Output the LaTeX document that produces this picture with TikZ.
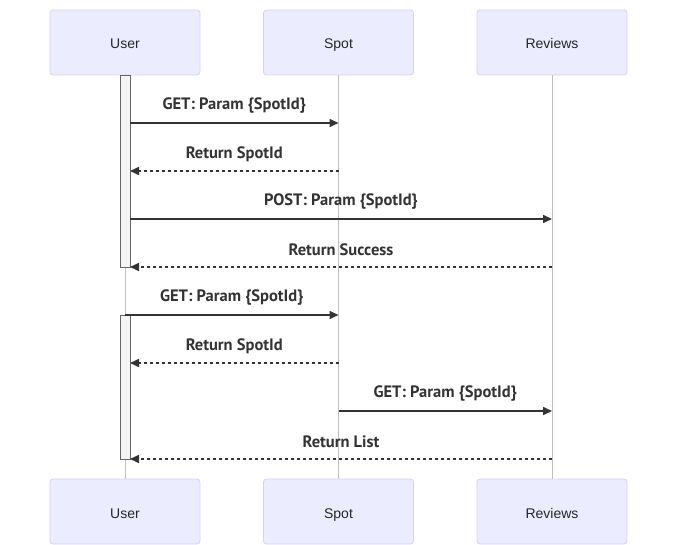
\documentclass[tikz,border=0pt]{standalone}
\usepackage{fontspec}
\setmainfont{Liberation Sans}
\newfontfamily\msgfont{PT Sans}
\usepackage{tikz}
\usetikzlibrary{arrows.meta}
\definecolor{actfill}{HTML}{ECECFF}
\definecolor{actline}{HTML}{DACEF3}
\definecolor{sigline}{HTML}{333333}
\definecolor{barfill}{HTML}{F4F4F4}
\definecolor{barline}{HTML}{666666}
\tikzset{
	actor/.style={draw=actline, fill=actfill, line width=0.8pt, rounded corners=3pt, minimum width=150pt, minimum height=65pt, inner sep=0pt, text height=13pt, text depth=0pt, font=\fontsize{14}{16}\selectfont, text=black!85},
	life/.style={draw=black!25, line width=0.8pt},
	actbar/.style={draw=barline, fill=barfill, line width=0.8pt},
	sig/.style={draw=sigline, line width=1.6pt, -{Triangle[length=9pt,width=8pt]}},
	ret/.style={sig, dash pattern=on 3pt off 3pt},
	msg/.style={midway, yshift=17pt, font=\msgfont\bfseries\fontsize{16.5}{18}\selectfont, text=sigline}
}

\begin{document}
\begin{tikzpicture}[x=1pt, y=-1pt]
	\useasboundingbox (0, 0) rectangle (677, 545);
	
	\node[actor] (userT) at (125, 42.5) {User};
	\node[actor] (spotT) at (338.5, 42.5) {Spot};
	\node[actor] (revT) at (552, 42.5) {Reviews};
	\node[actor] (userB) at (125, 511.5) {User};
	\node[actor] (spotB) at (338.5, 511.5) {Spot};
	\node[actor] (revB) at (552, 511.5) {Reviews};
	
	\draw[life] (userT.south) -- (userB.north);
	\draw[life] (spotT.south) -- (spotB.north);
	\draw[life] (revT.south) -- (revB.north);
	
	\draw[actbar] (120, 75) rectangle (130, 267);
	\draw[actbar] (120, 315) rectangle (130, 459);
	
	\coordinate (u1) at (130, 123);   \coordinate (s1) at (338.5, 123);
	\coordinate (s2) at (338.5, 171); \coordinate (u2) at (130, 171);
	\coordinate (u3) at (130, 219);   \coordinate (r3) at (552, 219);
	\coordinate (r4) at (552, 267);   \coordinate (u4) at (130, 267);
	\coordinate (u5) at (125, 315);   \coordinate (s5) at (338.5, 315);
	\coordinate (s6) at (338.5, 363); \coordinate (u6) at (130, 363);
	\coordinate (s7) at (338.5, 411); \coordinate (r7) at (552, 411);
	\coordinate (r8) at (552, 459);   \coordinate (u8) at (130, 459);
	
	\draw[sig] (u1) -- node[msg] {GET: Param \{SpotId\}} (s1);
	\draw[ret] (s2) -- node[msg] {Return SpotId} (u2);
	\draw[sig] (u3) -- node[msg] {POST: Param \{SpotId\}} (r3);
	\draw[ret] (r4) -- node[msg] {Return Success} (u4);
	\draw[sig] (u5) -- node[msg] {GET: Param \{SpotId\}} (s5);
	\draw[ret] (s6) -- node[msg] {Return SpotId} (u6);
	\draw[sig] (s7) -- node[msg] {GET: Param \{SpotId\}} (r7);
	\draw[ret] (r8) -- node[msg] {Return List} (u8);
\end{tikzpicture}
\end{document}
